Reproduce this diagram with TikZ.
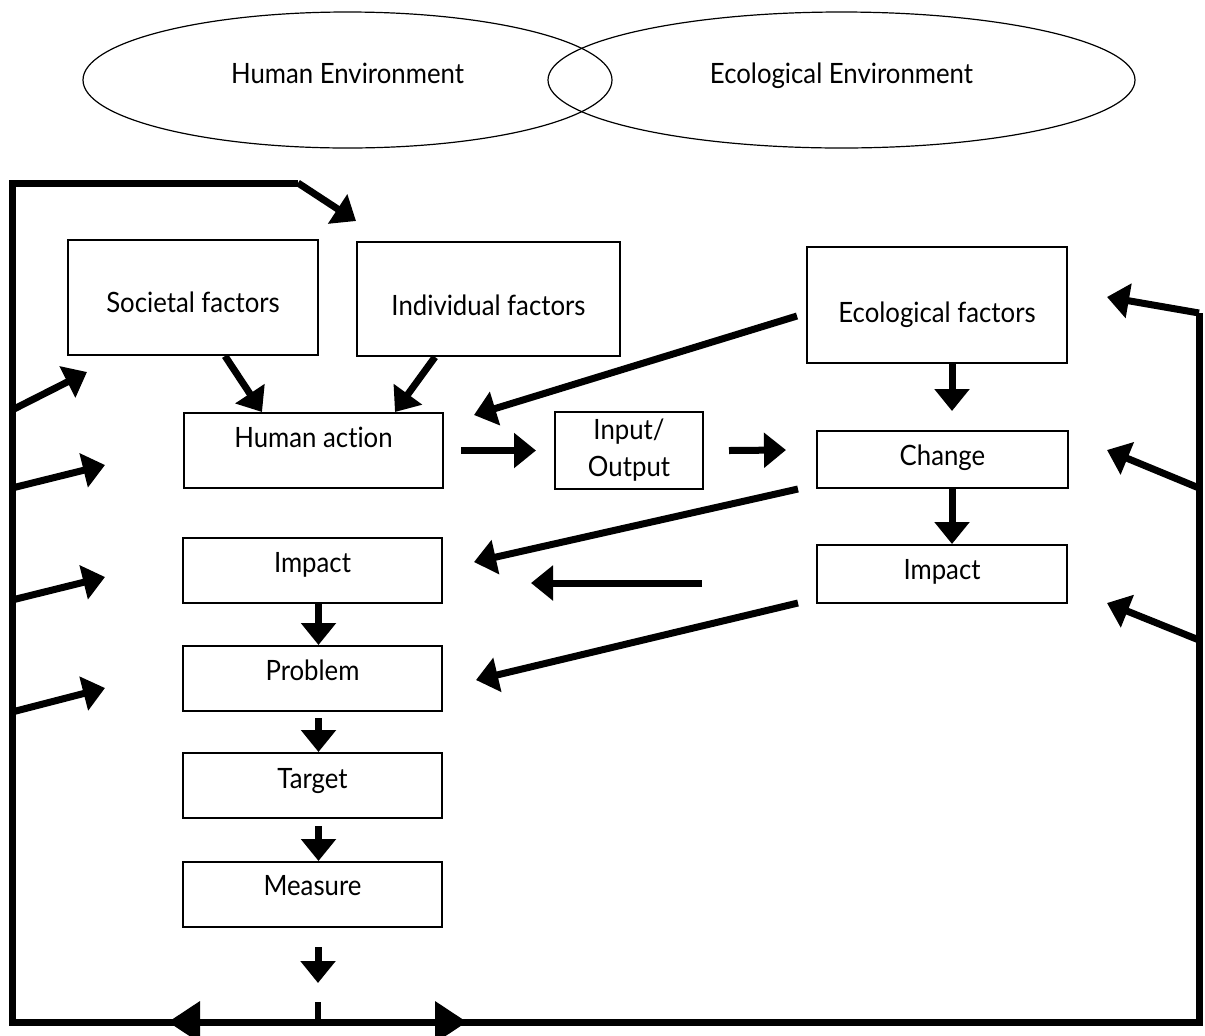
\documentclass[tikz,border=0pt]{standalone}
\usepackage{fontspec}
\setmainfont{Lato}[FakeStretch=0.92, Ligatures=NoCommon]
\usetikzlibrary{arrows.meta, shapes.geometric}

\begin{document}
\begin{tikzpicture}[x=0.5pt, y=-0.5pt,
    box/.style={rectangle, draw, line width=1pt, inner sep=0pt,
                text height=17pt, font=\fontsize{14}{18.5}\selectfont},
    env/.style={ellipse, draw, line width=0.6pt, inner sep=0pt,
                text height=10pt, text depth=7pt, font=\fontsize{14}{17}\selectfont},
    arrow/.style={-{Triangle[length=11pt, width=17pt]}, line width=3.5pt},
    bigarrow/.style={-{Triangle[length=16pt, width=20pt]}, line width=3.5pt},
    frame/.style={line width=3.5pt}]
  \useasboundingbox (0,0) rectangle (1205,1035);

  % the two environments
  \node[env, minimum width=264.5pt, minimum height=68pt] (human) at (347.5,80) {Human Environment};
  \node[env, minimum width=293.5pt, minimum height=68pt] (ecol) at (841.5,80) {Ecological Environment};

  % factors
  \node[box, minimum width=125pt, text height=36pt, text depth=21.5pt] (soc) at (193,297.5) {Societal factors};
  \node[box, minimum width=131.5pt, text height=36.5pt, text depth=20.5pt] (ind) at (488.5,299) {Individual factors};
  \node[box, minimum width=130pt, text height=37.5pt, text depth=20.5pt] (eco) at (937,305) {Ecological factors};

  % human side
  \node[box, minimum width=129.5pt, text depth=20.5pt] (act) at (313.5,450.5) {Human action};
  \node[box, minimum width=129.5pt, text depth=15.5pt] (impL) at (312.5,570.5) {Impact};
  \node[box, minimum width=129.5pt, text depth=15.5pt] (prob) at (312.5,678.5) {Problem};
  \node[box, minimum width=129.5pt, text depth=15pt, text height=17.5pt] (tgt) at (312.5,785.5) {Target};
  \node[box, minimum width=129.5pt, text depth=16pt, text height=16.5pt] (meas) at (312.5,894.5) {Measure};

  % in between and ecological side
  \node[box, minimum width=74pt, minimum height=38.5pt, text height=, text depth=,
        align=center] (io) at (629,450.5) {Input/\\Output};
  \node[box, minimum width=125.5pt, text depth=11.5pt] (chg) at (942.5,459.5) {Change};
  \node[box, minimum width=125pt, text depth=12pt] (impR) at (942,574) {Impact};

  % outer frame
  \coordinate (tk) at (298,183);
  \coordinate (tl) at (12,183);
  \coordinate (bl) at (12,1022);
  \coordinate (br) at (1199,1022);
  \coordinate (tr) at (1199,313);
  \draw[frame] (tk) -- (tl) -- (bl) -- (br) -- (tr);
  \draw[arrow] (tk) -- ([xshift=0pt, yshift=10pt]ind.north west);

  % feedback from the measure
  \coordinate (bm) at (318,1022);
  \coordinate (bs) at (318,1002);
  \coordinate (bo) at (318,983);
  \draw[line width=3pt] (bs) -- (bm);
  \draw[bigarrow] (bm) -- (168,1022);
  \draw[bigarrow] (bm) -- (467,1022);

  % left side arrows
  \foreach \i/\ys/\xe/\ye in {1/410/87/372, 2/488/105/465, 3/600/105/577, 4/712/105/688} {
    \coordinate (l\i) at (12,\ys);
    \coordinate (lt\i) at (\xe,\ye);
    \draw[arrow] (l\i) -- (lt\i);
  }
  % right side arrows
  \foreach \i/\ys/\ye in {1/313/297, 2/488/450, 3/640/603} {
    \coordinate (r\i) at (1199,\ys);
    \coordinate (rt\i) at (1107,\ye);
    \draw[arrow] (r\i) -- (rt\i);
  }

  % flows between the boxes
  \draw[arrow] ([xshift=16pt]soc.south) -- ([xshift=-25.75pt]act.north);
  \draw[arrow] ([xshift=-26.75pt]ind.south) -- ([xshift=40.75pt]act.north);
  \draw[arrow] ([xshift=-4.5pt, yshift=-5.5pt]eco.west) -- ([xshift=15pt, yshift=-1.5pt]act.north east);
  \draw[arrow] ([xshift=7.5pt]eco.south) -- ([xshift=4.75pt, yshift=9.5pt]chg.north);
  \draw[arrow] ([xshift=8.5pt]act.east) -- ([xshift=-9pt]io.west);
  \draw[arrow] ([xshift=12.5pt]io.east) -- ([xshift=-15pt, yshift=4.75pt]chg.west);
  \draw[arrow] ([xshift=-9pt]chg.south west) -- ([xshift=15.5pt, yshift=-12.5pt]impL.north east);
  \draw[arrow] ([xshift=-57pt, yshift=-4.5pt]impR.west) -- ([xshift=44pt, yshift=-6.25pt]impL.east);
  \draw[arrow] ([xshift=4.75pt]chg.south) -- ([xshift=5pt]impR.north);
  \draw[arrow] ([xshift=-9pt, yshift=0.5pt]impR.south west) -- ([xshift=16.5pt, yshift=-0.75pt]prob.east);
  \draw[arrow] ([xshift=3pt]impL.south) -- ([xshift=3pt]prob.north);
  \draw[arrow] ([xshift=3pt, yshift=-3pt]prob.south) -- ([xshift=3pt]tgt.north);
  \draw[arrow] ([xshift=3pt, yshift=-3.5pt]tgt.south) -- ([xshift=3pt]meas.north);
  \draw[arrow] ([xshift=2.75pt, yshift=-9.5pt]meas.south) -- (bo);
\end{tikzpicture}
\end{document}
